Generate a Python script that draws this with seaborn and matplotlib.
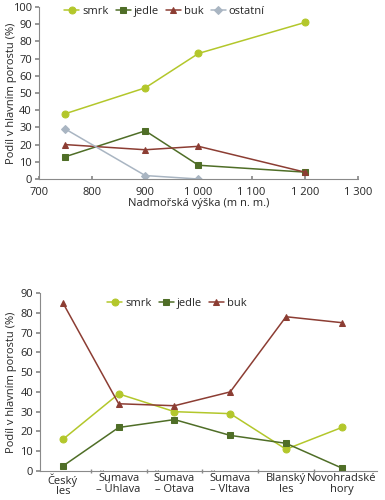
import matplotlib
matplotlib.use("Agg")
import matplotlib.pyplot as plt
import seaborn as sns
import pandas as pd
import numpy as np

# --- data: top chart (altitude) ---
altitude = [750, 900, 1000, 1200]
smrk_alt = [38, 53, 73, 91]
jedle_alt = [13, 28, 8, 4]
buk_alt = [20, 17, 19, 4]
ostatni_alt = [29, 2, 0]          # only first three altitudes

# --- data: bottom chart (regions) ---
regions = ["Český\nles", "Šumava\n– Úhlava", "Šumava\n– Otava",
           "Šumava\n– Vltava", "Blanský\nles", "Novohradské\nhory"]
smrk_reg = [16, 39, 30, 29, 11, 22]
jedle_reg = [2.5, 22, 26, 18, 14, 1.5]
buk_reg = [85, 34, 33, 40, 78, 75]

sns.set_theme(style="white")
plt.rcParams['font.family'] = ['Open Sans', 'DejaVu Sans']

colors = {"smrk": "#b3c72b", "jedle": "#4f6e27", "buk": "#8c3d33", "ostatní": "#a9b5c2"}
markers = {"smrk": "o", "jedle": "s", "buk": "^", "ostatní": "D"}
msize = {"smrk": 5, "jedle": 4.6, "buk": 4.3, "ostatní": 4.3}
axis_col = "#8a8a8a"
fs = 8

fig = plt.figure(figsize=(3.85, 5.0), dpi=100)

def style_axes(ax):
    for s in ["top", "right"]:
        ax.spines[s].set_visible(False)
    for s in ["left", "bottom"]:
        ax.spines[s].set_color(axis_col)
        ax.spines[s].set_linewidth(0.8)

# ---------- top ----------
ax1 = fig.add_axes([0.101, 0.642, 0.829, 0.344])
rows = []
for name, vals in [("smrk", smrk_alt), ("jedle", jedle_alt), ("buk", buk_alt), ("ostatní", ostatni_alt)]:
    for x, v in zip(altitude, vals):
        rows.append({"x": x, "y": v, "druh": name})
df1 = pd.DataFrame(rows)
for name in ["smrk", "jedle", "buk", "ostatní"]:
    sub = df1[df1.druh == name]
    sns.lineplot(data=sub, x="x", y="y", ax=ax1, color=colors[name], marker=markers[name],
                 markersize=msize[name], markeredgecolor=colors[name], linewidth=1.1, label=name)
ax1.set_xlim(700, 1300)
ax1.set_ylim(0, 100)
ax1.set_xticks(range(700, 1301, 100))
ax1.set_xticklabels([f"{v:,}".replace(",", " ") for v in range(700, 1301, 100)])
ax1.set_yticks(range(0, 101, 10))
ax1.set_xlabel("Nadmořská výška (m n. m.)", fontsize=fs, labelpad=0)
ax1.set_ylabel("Podíl v hlavním porostu (%)", fontsize=fs)
ax1.yaxis.set_label_coords(-0.07, 0.5)
ax1.legend(loc="center left", bbox_to_anchor=(0.08, 0.975), ncol=4, frameon=False, fontsize=fs,
           handlelength=1.35, handletextpad=0.25, columnspacing=0.65, borderaxespad=0, borderpad=0)
style_axes(ax1)
ax1.tick_params(axis="y", left=True, length=3, color=axis_col, labelsize=fs, pad=2)
ax1.tick_params(axis="x", bottom=True, direction="in", length=2, color=axis_col, labelsize=fs, pad=6)

# ---------- bottom ----------
ax2 = fig.add_axes([0.104, 0.058, 0.875, 0.356])
rows = []
for name, vals in [("smrk", smrk_reg), ("jedle", jedle_reg), ("buk", buk_reg)]:
    for i, v in enumerate(vals):
        rows.append({"x": i, "y": v, "druh": name})
df2 = pd.DataFrame(rows)
for name in ["smrk", "jedle", "buk"]:
    sub = df2[df2.druh == name]
    sns.lineplot(data=sub, x="x", y="y", ax=ax2, color=colors[name], marker=markers[name],
                 markersize=msize[name], markeredgecolor=colors[name], linewidth=1.1, label=name)
ax2.set_xlim(-0.41, len(regions) - 0.37)
ax2.set_ylim(0, 90)
ax2.set_yticks(range(0, 91, 10))
ax2.set_xticks(range(len(regions)))
ax2.set_xticklabels(regions, linespacing=0.95)
ax2.set_xticks(np.arange(0.5, len(regions) - 1, 1.0), minor=True)
ax2.set_xlabel("")
ax2.set_ylabel("Podíl v hlavním porostu (%)", fontsize=fs)
ax2.yaxis.set_label_coords(-0.068, 0.5)
ax2.legend(loc="center left", bbox_to_anchor=(0.2, 0.94), ncol=3, frameon=False, fontsize=fs,
           handlelength=1.35, handletextpad=0.25, columnspacing=0.65, borderaxespad=0, borderpad=0)
style_axes(ax2)
ax2.tick_params(axis="y", left=True, length=3, color=axis_col, labelsize=fs, pad=2)
ax2.tick_params(axis="x", which="major", bottom=False, length=0, labelsize=fs, pad=1.5)
ax2.tick_params(axis="x", which="minor", bottom=True, direction="inout", length=3, color=axis_col)

fig.savefig("out.png", dpi=100)
